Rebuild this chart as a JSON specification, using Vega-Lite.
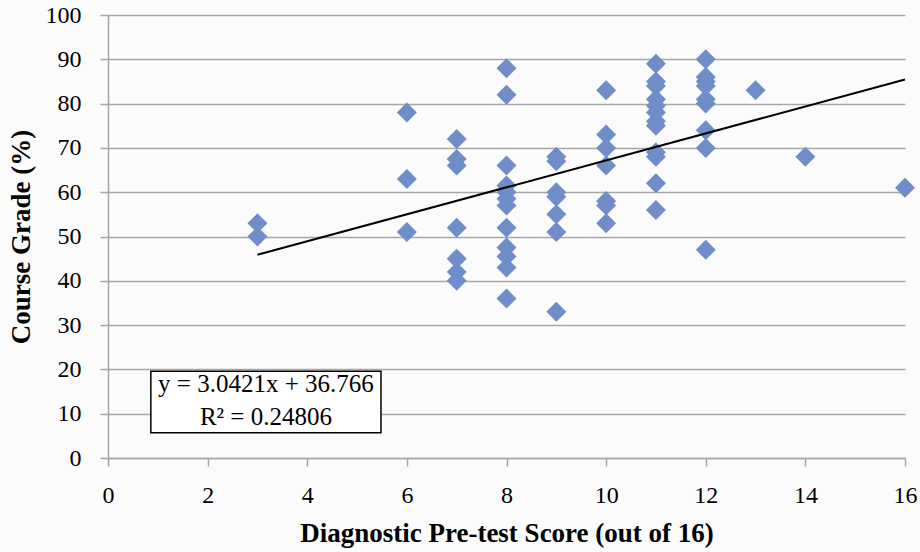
{
  "$schema": "https://vega.github.io/schema/vega-lite/v6.json",
  "width": 797,
  "height": 443,
  "autosize": "none",
  "padding": {"left": 108, "top": 15, "right": 15, "bottom": 94},
  "background": "#fbfbfb",
  "config": {
    "view": {"stroke": null},
    "font": "Liberation Serif",
    "axis": {
      "labelFont": "Liberation Serif",
      "titleFont": "Liberation Serif",
      "labelFontSize": 24,
      "titleFontSize": 27,
      "titleFontWeight": "bold",
      "labelColor": "#000000",
      "titleColor": "#000000",
      "labelFlush": false,
      "domainColor": "#a6a6a6",
      "domainWidth": 1.5,
      "tickColor": "#a6a6a6",
      "tickWidth": 1.5,
      "tickSize": 8,
      "gridColor": "#a6a6a6",
      "gridWidth": 1.5
    }
  },
  "layer": [
    {
      "data": {
        "values": [
          {"score": 3, "grade": 53}, {"score": 3, "grade": 50},
          {"score": 6, "grade": 78}, {"score": 6, "grade": 63}, {"score": 6, "grade": 51},
          {"score": 7, "grade": 72}, {"score": 7, "grade": 67.5}, {"score": 7, "grade": 66}, {"score": 7, "grade": 52}, {"score": 7, "grade": 45}, {"score": 7, "grade": 42}, {"score": 7, "grade": 40},
          {"score": 8, "grade": 88}, {"score": 8, "grade": 82}, {"score": 8, "grade": 66}, {"score": 8, "grade": 61.5}, {"score": 8, "grade": 60}, {"score": 8, "grade": 58.5}, {"score": 8, "grade": 57}, {"score": 8, "grade": 52}, {"score": 8, "grade": 47.5}, {"score": 8, "grade": 45.5}, {"score": 8, "grade": 43}, {"score": 8, "grade": 36},
          {"score": 9, "grade": 68}, {"score": 9, "grade": 67}, {"score": 9, "grade": 60}, {"score": 9, "grade": 59}, {"score": 9, "grade": 55}, {"score": 9, "grade": 51}, {"score": 9, "grade": 33},
          {"score": 10, "grade": 83}, {"score": 10, "grade": 73}, {"score": 10, "grade": 70}, {"score": 10, "grade": 66}, {"score": 10, "grade": 58}, {"score": 10, "grade": 57}, {"score": 10, "grade": 53},
          {"score": 11, "grade": 89}, {"score": 11, "grade": 85}, {"score": 11, "grade": 84}, {"score": 11, "grade": 81}, {"score": 11, "grade": 79.5}, {"score": 11, "grade": 78}, {"score": 11, "grade": 76}, {"score": 11, "grade": 75}, {"score": 11, "grade": 69}, {"score": 11, "grade": 68}, {"score": 11, "grade": 62}, {"score": 11, "grade": 56},
          {"score": 12, "grade": 90}, {"score": 12, "grade": 86}, {"score": 12, "grade": 85}, {"score": 12, "grade": 84}, {"score": 12, "grade": 81}, {"score": 12, "grade": 80}, {"score": 12, "grade": 74}, {"score": 12, "grade": 70}, {"score": 12, "grade": 47},
          {"score": 13, "grade": 83},
          {"score": 14, "grade": 68},
          {"score": 16, "grade": 61}
        ]
      },
      "mark": {"type": "point", "shape": "diamond", "filled": true, "size": 400, "color": "#6f8dc8", "opacity": 1},
      "encoding": {
        "x": {
          "field": "score", "type": "quantitative",
          "scale": {"domain": [0, 16], "nice": false},
          "axis": {"title": "Diagnostic Pre-test Score (out of 16)", "values": [0, 2, 4, 6, 8, 10, 12, 14, 16], "grid": false, "labelPadding": 17, "titlePadding": 13}
        },
        "y": {
          "field": "grade", "type": "quantitative",
          "scale": {"domain": [0, 100], "nice": false},
          "axis": {"title": "Course Grade (%)", "values": [0, 10, 20, 30, 40, 50, 60, 70, 80, 90, 100], "grid": true, "labelPadding": 19, "titlePadding": 10}
        }
      }
    },
    {
      "data": {"values": [{"score": 3, "grade": 45.89}, {"score": 16, "grade": 85.44}]},
      "mark": {"type": "line", "color": "#000000", "strokeWidth": 2},
      "encoding": {
        "x": {"field": "score", "type": "quantitative"},
        "y": {"field": "grade", "type": "quantitative"}
      }
    },
    {
      "data": {"values": [{"x1": 0.86, "x2": 5.48, "y1": 19.6, "y2": 5.7}]},
      "mark": {"type": "rect", "fill": "#ffffff", "stroke": "#000000", "strokeWidth": 1.5},
      "encoding": {
        "x": {"field": "x1", "type": "quantitative"},
        "x2": {"field": "x2"},
        "y": {"field": "y1", "type": "quantitative"},
        "y2": {"field": "y2"}
      }
    },
    {
      "data": {"values": [{"x": 3.17, "y": 16.6, "label": "y = 3.0421x + 36.766"}, {"x": 3.17, "y": 9.2, "label": "R² = 0.24806"}]},
      "mark": {"type": "text", "fontSize": 25, "font": "Liberation Serif", "color": "#000000", "align": "center", "baseline": "middle"},
      "encoding": {
        "x": {"field": "x", "type": "quantitative"},
        "y": {"field": "y", "type": "quantitative"},
        "text": {"field": "label"}
      }
    }
  ]
}
